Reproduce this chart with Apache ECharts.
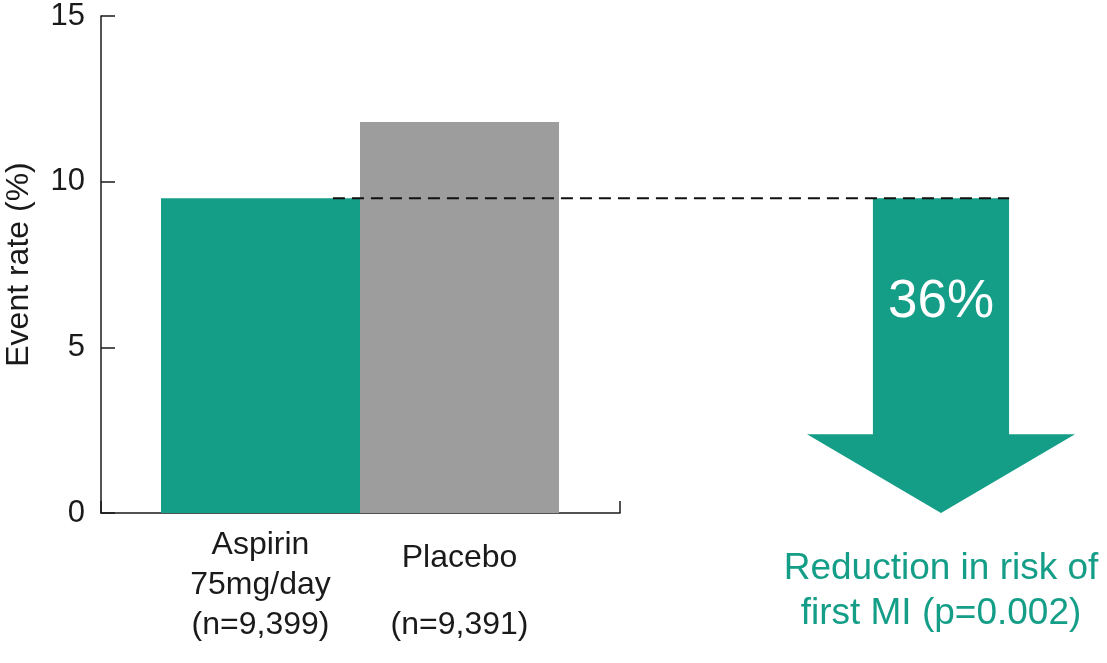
<!DOCTYPE html>
<html lang="en">
<head>
    <meta charset="UTF-8">
    <title>Aspirin 75mg/day vs placebo: first MI</title>
    <style>
        html, body {
            margin: 0;
            padding: 0;
            background: #ffffff;
        }
        #main {
            width: 1107px;
            height: 663px;
        }
    </style>
    <script type="text/javascript" src="https://cdn.jsdelivr.net/npm/echarts@6.0.0/dist/echarts.min.js"></script>
</head>
<body>
<div id="main"></div>
<script type="text/javascript">
    // chart values
    var groupNames = ['Aspirin\n75mg/day', 'Placebo'];
    var groupSizes = ['(n=9,399)', '(n=9,391)'];
    var eventRates = [9.5, 11.8];
    var riskReduction = [36];
    var reductionText = ['Reduction in risk of\nfirst MI (p=0.002)'];
    var yTicks = [0, 5, 10, 15];

    var teal = '#149e88';
    var grey = '#9d9d9d';
    var ink = '#1a1a1a';
    var font = '"Liberation Sans", Arial, Helvetica, sans-serif';

    // note: "top" is taken by window.top, so use other names
    var gridTop = 16, gridBottom = 150;
    var barLeft = 161, barWidth = 398;
    var arrowLeft = 807, arrowWidth = 268;
    var shaftRatio = 0.254;

    var chart = echarts.init(document.getElementById('main'));

    function groupLabel(value, idx) {
        var lines = value.split('\n');
        if (lines.length > 1) {
            return lines.concat([groupSizes[idx]]).map(function (l) {
                return '{a|' + l + '}';
            }).join('\n');
        }
        // single line name: name sits lower, sample size lines up with the others
        return '{p|' + value + '}\n{n|' + groupSizes[idx] + '}';
    }

    function renderArrow(params, api) {
        var start = api.coord([api.value(0), api.value(1)]);
        var tip = api.coord([api.value(0), 0]);
        var band = api.size([1, 0])[0];
        var cx = start[0];
        var half = band / 2;
        var shaft = band * shaftRatio;
        var len = tip[1] - start[1];
        var headY = start[1] + len * 0.75;
        return {
            type: 'group',
            children: [{
                type: 'polygon',
                shape: {
                    points: [
                        [cx - shaft, start[1]], [cx + shaft, start[1]],
                        [cx + shaft, headY], [cx + half, headY],
                        [cx, tip[1]],
                        [cx - half, headY], [cx - shaft, headY]
                    ]
                },
                style: {fill: teal}
            }, {
                type: 'text',
                x: cx,
                y: start[1] + len * 0.33,
                style: {
                    text: api.value(2) + '%',
                    fill: '#ffffff',
                    fontSize: 53,
                    fontFamily: font,
                    align: 'center',
                    verticalAlign: 'middle'
                }
            }]
        };
    }

    var option = {
        animation: false,
        backgroundColor: '#ffffff',
        grid: [
            {left: 101, width: 519, top: gridTop, bottom: gridBottom},
            {left: barLeft, width: barWidth, top: gridTop, bottom: gridBottom},
            {left: arrowLeft, width: arrowWidth, top: gridTop, bottom: gridBottom}
        ],
        xAxis: [{
            // frame axis: line and end tick only
            gridIndex: 0,
            type: 'value',
            min: 0,
            max: 1,
            interval: 1,
            axisLine: {lineStyle: {color: ink, width: 1.5}},
            axisTick: {inside: true, length: 12, lineStyle: {color: ink, width: 1.5}},
            axisLabel: {show: false},
            splitLine: {show: false}
        }, {
            gridIndex: 1,
            type: 'category',
            data: groupNames,
            axisLine: {show: false},
            axisTick: {show: false},
            axisLabel: {
                margin: 12,
                interval: 0,
                formatter: groupLabel,
                rich: {
                    a: {fontSize: 32, fontFamily: font, color: ink, lineHeight: 40},
                    p: {fontSize: 32, fontFamily: font, color: ink, lineHeight: 67},
                    n: {fontSize: 32, fontFamily: font, color: ink, lineHeight: 67}
                }
            }
        }, {
            gridIndex: 2,
            type: 'category',
            data: reductionText,
            axisLine: {show: false},
            axisTick: {show: false},
            axisLabel: {
                margin: 33,
                fontSize: 37,
                lineHeight: 45,
                fontFamily: font,
                color: teal
            }
        }],
        yAxis: [{
            gridIndex: 0,
            type: 'value',
            min: yTicks[0],
            max: yTicks[yTicks.length - 1],
            interval: yTicks[1] - yTicks[0],
            name: 'Event rate (%)',
            nameLocation: 'middle',
            nameGap: 66,
            nameTextStyle: {fontSize: 32, fontFamily: font, color: ink},
            axisLine: {show: true, lineStyle: {color: ink, width: 1.5}},
            axisTick: {show: true, inside: true, length: 14, lineStyle: {color: ink, width: 1.5}},
            axisLabel: {margin: 16, fontSize: 31, fontFamily: font, color: ink},
            splitLine: {show: false}
        }, {
            gridIndex: 1,
            type: 'value',
            min: yTicks[0],
            max: yTicks[yTicks.length - 1],
            show: false
        }, {
            gridIndex: 2,
            type: 'value',
            min: yTicks[0],
            max: yTicks[yTicks.length - 1],
            show: false
        }],
        series: [{
            type: 'bar',
            xAxisIndex: 1,
            yAxisIndex: 1,
            barCategoryGap: 0,
            data: eventRates.map(function (v, i) {
                return {value: v, itemStyle: {color: i === 0 ? teal : grey}};
            })
        }, {
            type: 'custom',
            xAxisIndex: 2,
            yAxisIndex: 2,
            renderItem: renderArrow,
            data: riskReduction.map(function (r, i) {
                return [i, eventRates[0], r];
            }),
            z: 3
        }]
    };

    chart.setOption(option);

    // dashed reference line at the aspirin event rate, from aspirin bar to the arrow
    var lineY = chart.convertToPixel({yAxisIndex: 0}, eventRates[0]);
    var aspirinX = chart.convertToPixel({xAxisIndex: 1}, 0);
    var arrowX = chart.convertToPixel({xAxisIndex: 2}, 0);
    var lineX0 = aspirinX + 0.364 * (barWidth / groupNames.length);
    var lineX1 = arrowX + shaftRatio * arrowWidth;
    chart.setOption({
        graphic: [{
            type: 'line',
            z: 10,
            shape: {x1: lineX0, y1: lineY, x2: lineX1, y2: lineY},
            style: {stroke: '#111111', lineWidth: 2, lineDash: [12, 7]}
        }]
    });
</script>
</body>
</html>
